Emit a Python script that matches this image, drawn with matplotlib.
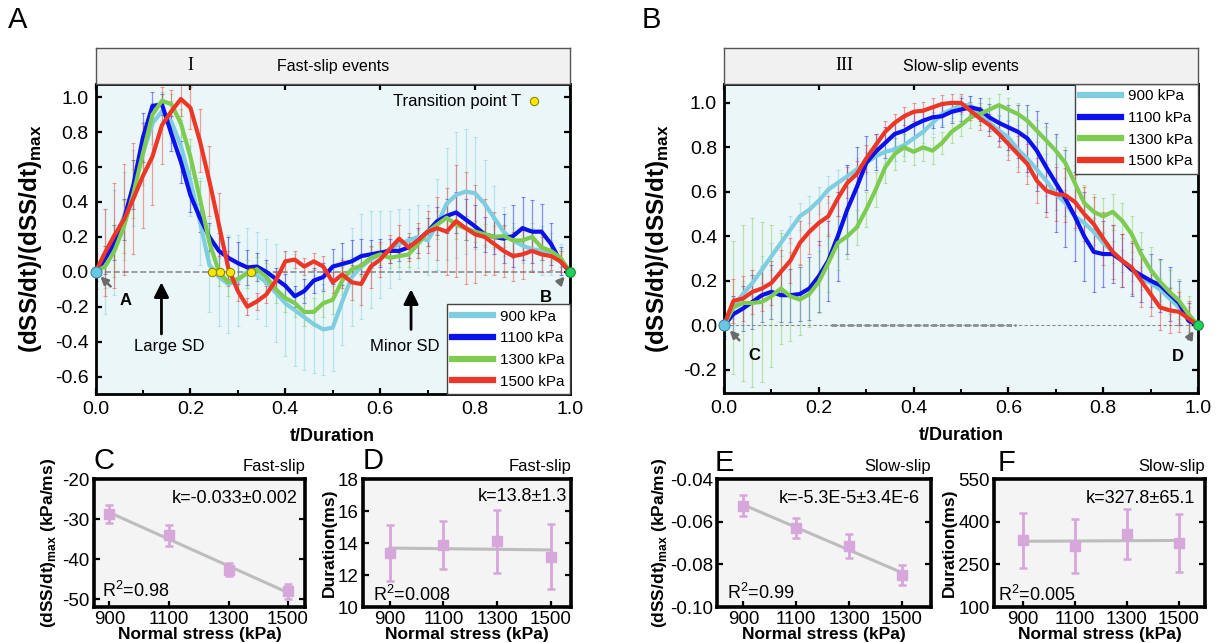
import numpy as np
import matplotlib
matplotlib.use("Agg")
import matplotlib.pyplot as plt
from matplotlib.lines import Line2D

plt.rcParams['font.family'] = ['Liberation Sans', 'DejaVu Sans']
plt.rcParams['axes.unicode_minus'] = False
plt.rcParams['mathtext.fontset'] = 'custom'
plt.rcParams['mathtext.rm'] = 'Liberation Sans'
plt.rcParams['mathtext.bf'] = 'Liberation Sans:bold'

# ---------------- data ----------------
t_grid = [0.00, 0.02, 0.04, 0.06, 0.08, 0.10, 0.12, 0.14, 0.16, 0.18,
          0.20, 0.22, 0.24, 0.26, 0.28, 0.30, 0.32, 0.34, 0.36, 0.38,
          0.40, 0.42, 0.44, 0.46, 0.48, 0.50, 0.52, 0.54, 0.56, 0.58,
          0.60, 0.62, 0.64, 0.66, 0.68, 0.70, 0.72, 0.74, 0.76, 0.78,
          0.80, 0.82, 0.84, 0.86, 0.88, 0.90, 0.92, 0.94, 0.96, 0.98, 1.00]
stress_labels = ["900 kPa", "1100 kPa", "1300 kPa", "1500 kPa"]

# panel A: fast-slip events, normalised slip rate
fast_900 = [0.0, 0.06, 0.17, 0.32, 0.48, 0.68, 0.85, 0.92, 0.86, 0.72,
            0.52, 0.29, 0.04, -0.03, -0.07, -0.05, 0.0, -0.02, -0.06, -0.12,
            -0.18, -0.22, -0.26, -0.30, -0.33, -0.32, -0.17, -0.03, 0.03, 0.07,
            0.10, 0.13, 0.16, 0.18, 0.20, 0.18, 0.27, 0.39, 0.44, 0.46,
            0.45, 0.39, 0.31, 0.23, 0.18, 0.15, 0.13, 0.12, 0.10, 0.06, 0.0]
fast_1100 = [0.0, 0.07, 0.17, 0.30, 0.50, 0.77, 0.95, 0.96, 0.79, 0.63,
             0.44, 0.31, 0.20, 0.12, 0.08, 0.05, 0.025, 0.03, 0.0, -0.04,
             -0.08, -0.14, -0.11, -0.05, -0.03, 0.03, 0.045, 0.06, 0.09, 0.10,
             0.11, 0.12, 0.12, 0.14, 0.18, 0.23, 0.29, 0.32, 0.34, 0.30,
             0.26, 0.215, 0.20, 0.19, 0.205, 0.25, 0.23, 0.23, 0.16, 0.06, 0.0]
fast_1300 = [0.0, 0.03, 0.12, 0.26, 0.45, 0.68, 0.90, 0.98, 0.96, 0.85,
             0.66, 0.42, 0.17, 0.0, -0.06, -0.04, -0.01, 0.015, -0.03, -0.10,
             -0.15, -0.18, -0.23, -0.23, -0.18, -0.16, -0.05, 0.015, 0.035, 0.08,
             0.10, 0.08, 0.09, 0.10, 0.16, 0.23, 0.27, 0.31, 0.27, 0.25,
             0.23, 0.215, 0.20, 0.205, 0.18, 0.18, 0.20, 0.14, 0.12, 0.08, 0.0]
fast_1500 = [0.0, 0.11, 0.21, 0.30, 0.42, 0.55, 0.66, 0.84, 0.92, 0.99,
             0.94, 0.75, 0.52, 0.27, 0.02, -0.11, -0.20, -0.17, -0.13, -0.05,
             0.06, 0.07, 0.03, 0.06, 0.03, -0.06, -0.015, -0.06, -0.07, 0.03,
             0.07, 0.13, 0.19, 0.14, 0.18, 0.23, 0.25, 0.23, 0.29, 0.25,
             0.215, 0.20, 0.16, 0.12, 0.09, 0.10, 0.12, 0.10, 0.09, 0.06, 0.0]
fast_900_sd = [0.10, 0.30, 0.30, 0.25, 0.22, 0.18, 0.12, 0.10, 0.12, 0.15,
               0.20, 0.25, 0.27, 0.28, 0.28, 0.26, 0.25, 0.25, 0.25, 0.28,
               0.30, 0.32, 0.30, 0.28, 0.26, 0.25, 0.25, 0.28, 0.30, 0.28,
               0.25, 0.22, 0.20, 0.18, 0.18, 0.20, 0.26, 0.32, 0.36, 0.36,
               0.32, 0.25, 0.18, 0.14, 0.10, 0.10, 0.12, 0.14, 0.12, 0.10, 0.0]
fast_1100_sd = [0.05, 0.08, 0.10, 0.12, 0.14, 0.14, 0.08, 0.06, 0.10, 0.12,
                0.10, 0.08, 0.08, 0.10, 0.12, 0.12, 0.10, 0.08, 0.07, 0.06,
                0.07, 0.06, 0.07, 0.07, 0.08, 0.10, 0.12, 0.12, 0.10, 0.08,
                0.08, 0.07, 0.06, 0.06, 0.07, 0.08, 0.08, 0.10, 0.12, 0.12,
                0.12, 0.10, 0.10, 0.14, 0.18, 0.18, 0.18, 0.16, 0.12, 0.08, 0.0]
fast_1300_sd = [0.05, 0.12, 0.15, 0.15, 0.14, 0.12, 0.06, 0.05, 0.06, 0.08,
                0.10, 0.10, 0.10, 0.08, 0.08, 0.08, 0.08, 0.07, 0.08, 0.08,
                0.08, 0.08, 0.08, 0.08, 0.08, 0.08, 0.08, 0.07, 0.06, 0.06,
                0.06, 0.06, 0.06, 0.07, 0.08, 0.08, 0.08, 0.08, 0.08, 0.07,
                0.06, 0.06, 0.06, 0.06, 0.07, 0.08, 0.08, 0.07, 0.06, 0.05, 0.0]
fast_1500_sd = [0.10, 0.25, 0.30, 0.32, 0.32, 0.30, 0.28, 0.22, 0.12, 0.10,
                0.12, 0.18, 0.20, 0.18, 0.10, 0.06, 0.05, 0.05, 0.05, 0.05,
                0.06, 0.05, 0.05, 0.05, 0.06, 0.06, 0.08, 0.10, 0.12, 0.12,
                0.10, 0.08, 0.08, 0.08, 0.10, 0.12, 0.18, 0.25, 0.32, 0.32,
                0.28, 0.22, 0.18, 0.15, 0.14, 0.14, 0.12, 0.10, 0.08, 0.06, 0.0]
transition_t = [0.246, 0.262, 0.283, 0.327]

# panel B: slow-slip events
slow_900 = [0.0, 0.08, 0.14, 0.19, 0.25, 0.31, 0.37, 0.43, 0.49, 0.52,
            0.56, 0.61, 0.64, 0.67, 0.70, 0.73, 0.76, 0.78, 0.79, 0.81,
            0.84, 0.87, 0.91, 0.95, 0.97, 0.99, 0.99, 0.95, 0.91, 0.875,
            0.845, 0.79, 0.75, 0.70, 0.65, 0.59, 0.55, 0.49, 0.46, 0.42,
            0.37, 0.33, 0.29, 0.25, 0.21, 0.19, 0.16, 0.12, 0.08, 0.04, 0.0]
slow_1100 = [0.0, 0.05, 0.075, 0.105, 0.135, 0.15, 0.135, 0.135, 0.14, 0.165,
             0.22, 0.29, 0.40, 0.52, 0.62, 0.73, 0.78, 0.82, 0.86, 0.875,
             0.90, 0.92, 0.935, 0.94, 0.96, 0.97, 0.98, 0.97, 0.935, 0.91,
             0.89, 0.87, 0.84, 0.785, 0.71, 0.64, 0.57, 0.49, 0.40, 0.33,
             0.32, 0.32, 0.29, 0.25, 0.225, 0.20, 0.18, 0.14, 0.10, 0.02, 0.0]
slow_1300 = [0.0, 0.08, 0.10, 0.10, 0.105, 0.13, 0.165, 0.13, 0.115, 0.14,
             0.195, 0.28, 0.37, 0.40, 0.44, 0.52, 0.61, 0.71, 0.77, 0.80,
             0.78, 0.80, 0.785, 0.82, 0.87, 0.90, 0.935, 0.95, 0.97, 0.99,
             0.97, 0.95, 0.92, 0.875, 0.83, 0.785, 0.73, 0.64, 0.55, 0.51,
             0.49, 0.51, 0.47, 0.41, 0.32, 0.25, 0.195, 0.15, 0.11, 0.05, 0.0]
slow_1500 = [0.0, 0.11, 0.12, 0.15, 0.165, 0.19, 0.24, 0.29, 0.37, 0.42,
             0.46, 0.49, 0.57, 0.64, 0.68, 0.75, 0.81, 0.87, 0.91, 0.94,
             0.96, 0.965, 0.98, 0.995, 1.0, 1.0, 0.965, 0.93, 0.90, 0.86,
             0.815, 0.77, 0.725, 0.65, 0.605, 0.59, 0.585, 0.555, 0.50, 0.455,
             0.39, 0.33, 0.29, 0.26, 0.20, 0.14, 0.08, 0.067, 0.06, 0.03, 0.0]
slow_900_sd = [0.03, 0.05, 0.06, 0.06, 0.06, 0.06, 0.06, 0.06, 0.06, 0.06,
               0.06, 0.06, 0.06, 0.05, 0.05, 0.05, 0.05, 0.05, 0.05, 0.05,
               0.05, 0.05, 0.05, 0.05, 0.04, 0.04, 0.04, 0.05, 0.06, 0.07,
               0.08, 0.08, 0.08, 0.08, 0.07, 0.07, 0.06, 0.06, 0.06, 0.06,
               0.05, 0.05, 0.05, 0.05, 0.05, 0.05, 0.05, 0.05, 0.05, 0.04, 0.0]
slow_1100_sd = [0.05, 0.08, 0.10, 0.12, 0.12, 0.12, 0.12, 0.12, 0.12, 0.14,
                0.16, 0.18, 0.20, 0.20, 0.18, 0.12, 0.08, 0.07, 0.06, 0.06,
                0.06, 0.05, 0.05, 0.05, 0.05, 0.05, 0.05, 0.05, 0.06, 0.08,
                0.10, 0.12, 0.15, 0.18, 0.20, 0.22, 0.22, 0.20, 0.20, 0.18,
                0.15, 0.13, 0.12, 0.12, 0.12, 0.12, 0.12, 0.12, 0.10, 0.08, 0.0]
slow_1300_sd = [0.10, 0.30, 0.35, 0.38, 0.36, 0.32, 0.25, 0.20, 0.16, 0.15,
                0.14, 0.13, 0.12, 0.10, 0.08, 0.08, 0.08, 0.07, 0.07, 0.06,
                0.06, 0.06, 0.06, 0.05, 0.05, 0.05, 0.05, 0.05, 0.05, 0.05,
                0.05, 0.05, 0.05, 0.05, 0.06, 0.06, 0.07, 0.08, 0.08, 0.08,
                0.08, 0.08, 0.08, 0.08, 0.10, 0.10, 0.10, 0.10, 0.10, 0.08, 0.0]
slow_1500_sd = [0.06, 0.10, 0.10, 0.10, 0.10, 0.10, 0.10, 0.10, 0.10, 0.10,
                0.10, 0.09, 0.08, 0.07, 0.06, 0.06, 0.05, 0.05, 0.04, 0.04,
                0.04, 0.04, 0.04, 0.04, 0.04, 0.04, 0.04, 0.05, 0.05, 0.06,
                0.07, 0.08, 0.09, 0.10, 0.12, 0.12, 0.12, 0.12, 0.12, 0.12,
                0.12, 0.12, 0.12, 0.12, 0.12, 0.10, 0.10, 0.10, 0.09, 0.08, 0.0]

# panels C-F: vs normal stress
normal_stress = [900, 1100, 1300, 1500]
fast_rate_max = [-28.7, -34.1, -42.7, -48.1]
fast_rate_err = [2.3, 2.7, 1.6, 1.8]
fast_duration = [13.35, 13.9, 14.1, 13.15]
fast_duration_err = [1.75, 1.5, 1.95, 2.05]
slow_rate_max = [-0.0525, -0.063, -0.0715, -0.085]
slow_rate_err = [0.005, 0.0045, 0.0055, 0.0045]
slow_duration = [335, 315, 355, 325]
slow_duration_err = [97, 95, 88, 103]

# ---------------- style ----------------
CURVE_COLORS = ["#7fcde0", "#0a10ee", "#7dcc50", "#ee3626"]
BG = "#eaf6f8"
PINK = "#d7a6db"
W, H = 1218, 643

fig = plt.figure(figsize=(W / 100, H / 100), dpi=100)


def px_axes(x0, y0, x1, y1, **kw):
    return fig.add_axes([x0 / W, 1 - y1 / H, (x1 - x0) / W, (y1 - y0) / H], **kw)


def header(x0, x1, title):
    hx = px_axes(x0, 48, x1, 84)
    hx.set_facecolor("#f1f1f1")
    hx.set_xticks([])
    hx.set_yticks([])
    for s in hx.spines.values():
        s.set_color("#555555")
        s.set_linewidth(1.0)
    hx.text(0.5, 0.5, title, ha="center", va="center", fontsize=11.5,
            transform=hx.transAxes)
    return hx


def curves_panel(ax, series, sds, ylim, yticks):
    ax.set_facecolor(BG)
    for y, e, c in zip(series, sds, CURVE_COLORS):
        ax.errorbar(t_grid, y, yerr=e, fmt="none", ecolor=c, elinewidth=0.9,
                    capsize=1.6, capthick=0.8, alpha=0.45, zorder=2)
    for y, c, lab in zip(series, CURVE_COLORS, stress_labels):
        ax.plot(t_grid, y, color=c, lw=3.0, label=lab, zorder=3,
                solid_capstyle="round")
    ax.set_xlim(0, 1)
    ax.set_ylim(*ylim)
    ax.set_xticks([0.0, 0.2, 0.4, 0.6, 0.8, 1.0])
    ax.set_xticks([0.1, 0.3, 0.5, 0.7, 0.9], minor=True)
    ax.set_xticklabels(["0.0", "0.2", "0.4", "0.6", "0.8", "1.0"])
    ax.set_yticks(yticks)
    ax.set_yticklabels([f"{v:.1f}" for v in yticks])
    ax.tick_params(direction="in", top=True, right=True, labelsize=14,
                   width=1.6, length=4, pad=5)
    ax.tick_params(which="minor", direction="in", top=False, width=1.4,
                   length=3)
    for s in ax.spines.values():
        s.set_linewidth(2.0)
    ax.set_xlabel("t/Duration", fontsize=13, fontweight="bold")
    ax.xaxis.set_label_coords(0.5, -0.11)
    ax.set_ylabel(r"(dSS/dt)/(dSS/dt)$_\mathbf{max}$", fontsize=17.5,
                  fontweight="bold")


def legend(ax, loc):
    handles = [Line2D([0], [0], color=c, lw=4.5) for c in CURVE_COLORS]
    lg = ax.legend(handles, stress_labels, loc=loc, fontsize=11,
                   borderaxespad=0, handlelength=2.7, labelspacing=0.5,
                   handletextpad=0.45, borderpad=0.35, fancybox=False,
                   framealpha=1, edgecolor="#444444")
    lg.get_frame().set_linewidth(1.0)
    lg.set_zorder(6)


# ---------------- panel A ----------------
axA = px_axes(95.5, 84, 570, 394)
curves_panel(axA, [fast_900, fast_1100, fast_1300, fast_1500],
             [fast_900_sd, fast_1100_sd, fast_1300_sd, fast_1500_sd],
             (-0.70, 1.076), [-0.6, -0.4, -0.2, 0.0, 0.2, 0.4, 0.6, 0.8, 1.0])
axA.yaxis.set_label_coords(-0.108, 0.5)
axA.axhline(0, color="#8c8c8c", ls="--", lw=1.2, zorder=1)
axA.plot(transition_t, [0] * len(transition_t), "o", ms=6, mfc="#f7e600",
         mec="#8a7d00", mew=0.7, zorder=5)
axA.plot([0], [0], "o", ms=8, mfc="#66c8e6", mec="#3a7f95", mew=0.7,
         clip_on=False, zorder=6)
axA.plot([1], [0], "o", ms=7, mfc="#1fd15a", mec="#137a35", mew=0.7,
         clip_on=False, zorder=6)
arrow_gray = dict(arrowstyle="-|>", color="#6a6a6a", lw=1.8, mutation_scale=11,
                  shrinkA=6, shrinkB=3)
axA.annotate("A", xy=(0.004, -0.01), xytext=(0.063, -0.166), fontsize=12,
             fontweight="bold", ha="center", va="center",
             arrowprops=arrow_gray, zorder=6)
axA.annotate("B", xy=(0.995, -0.01), xytext=(0.949, -0.147), fontsize=12,
             fontweight="bold", ha="center", va="center",
             arrowprops=arrow_gray, zorder=6)
arrow_black = dict(arrowstyle="-|>", color="black", lw=2.0, mutation_scale=22,
                   shrinkA=0, shrinkB=0)
axA.annotate("", xy=(0.139, -0.06), xytext=(0.139, -0.356),
             arrowprops=arrow_black)
axA.text(0.156, -0.43, "Large SD", fontsize=12, ha="center", va="center")
axA.annotate("", xy=(0.665, -0.10), xytext=(0.665, -0.33),
             arrowprops=arrow_black)
axA.text(0.652, -0.43, "Minor SD", fontsize=12, ha="center", va="center")
axA.text(0.761, 0.977, "Transition point T", fontsize=12, ha="center",
         va="center")
axA.plot([0.925], [0.977], "o", ms=6, mfc="#f7e600", mec="#8a7d00", mew=0.7)
legend(axA, "lower right")

hA = header(95.5, 570, "Fast-slip events")
hA.text(0.2, 0.5, "I", ha="center", va="center", fontsize=13,
        family=["Liberation Serif", "DejaVu Serif"], transform=hA.transAxes)

# ---------------- panel B ----------------
axB = px_axes(724, 84, 1198, 393)
curves_panel(axB, [slow_900, slow_1100, slow_1300, slow_1500],
             [slow_900_sd, slow_1100_sd, slow_1300_sd, slow_1500_sd],
             (-0.305, 1.085), [-0.2, 0.0, 0.2, 0.4, 0.6, 0.8, 1.0])
axB.yaxis.set_label_coords(-0.112, 0.5)
axB.axhline(0, color="#8c8c8c", ls=(0, (3, 2)), lw=0.8, zorder=1)
axB.plot([0.225, 0.617], [0, 0], color="#8c8c8c", ls=(0, (2, 1)), lw=2.0,
         zorder=1)
axB.plot([0], [0], "o", ms=8, mfc="#66c8e6", mec="#3a7f95", mew=0.7,
         clip_on=False, zorder=6)
axB.plot([1], [0], "o", ms=7, mfc="#1fd15a", mec="#137a35", mew=0.7,
         clip_on=False, zorder=6)
axB.annotate("C", xy=(0.006, -0.01), xytext=(0.063, -0.135), fontsize=12,
             fontweight="bold", ha="center", va="center",
             arrowprops=arrow_gray, zorder=6)
axB.annotate("D", xy=(0.995, -0.01), xytext=(0.958, -0.142), fontsize=12,
             fontweight="bold", ha="center", va="center",
             arrowprops=arrow_gray, zorder=6)
legend(axB, "upper right")

hB = header(724, 1198, "Slow-slip events")
hB.text(0.255, 0.5, "III", ha="center", va="center", fontsize=13,
        family=["Liberation Serif", "DejaVu Serif"], transform=hB.transAxes)


# ---------------- panels C-F ----------------
def small_panel(box, xlim, ylim, yticks, ytick_fmt, y, yerr, ylabel, ylab_x,
                tag, ktext, kpos, r2text, r2pos):
    ax = px_axes(*box)
    ax.set_facecolor("#f4f4f4")
    slope, icpt = np.polyfit(normal_stress, y, 1)
    xs = np.array([normal_stress[0], normal_stress[-1]])
    ax.plot(xs, slope * xs + icpt, color="#bdbdbd", lw=2.2, zorder=2)
    ax.errorbar(normal_stress, y, yerr=yerr, fmt="s", ms=7, color=PINK,
                ecolor=PINK, elinewidth=2, capsize=3, capthick=1.8, zorder=3)
    ax.set_xlim(*xlim)
    ax.set_ylim(*ylim)
    ax.set_xticks(normal_stress)
    ax.set_yticks(yticks)
    ax.set_yticklabels([ytick_fmt.format(v) for v in yticks])
    ax.tick_params(direction="in", right=True, labelsize=13.5, width=1.6,
                   length=4, pad=3)
    for s in ax.spines.values():
        s.set_linewidth(2.6)
    ax.set_xlabel("Normal stress (kPa)", fontsize=12.5, fontweight="bold")
    ax.xaxis.set_label_coords(0.5, -0.16)
    ax.set_ylabel(ylabel, fontsize=12.5, fontweight="bold")
    ax.yaxis.set_label_coords(ylab_x, 0.5)
    ax.text(1.0, 1.04, tag, ha="right", va="bottom", fontsize=12,
            transform=ax.transAxes)
    ax.text(kpos[0], kpos[1], ktext, ha="right", va="center", fontsize=13,
            transform=ax.transAxes)
    ax.text(r2pos[0], r2pos[1], r2text, ha="left", va="center", fontsize=13,
            transform=ax.transAxes)
    return ax


rate_label = r"(dSS/dt)$_\mathbf{max}$ (kPa/ms)"
small_panel((94, 479, 305, 607), (848, 1557), (-52, -20), [-50, -40, -30, -20],
            "{:.0f}", fast_rate_max, fast_rate_err, rate_label, -0.17,
            "Fast-slip", "k=-0.033±0.002", (0.967, 0.85), "R$^2$=0.98",
            (0.036, 0.125))
small_panel((363, 479, 571, 607), (800, 1576), (10, 18), [10, 12, 14, 16, 18],
            "{:.0f}", fast_duration, fast_duration_err, "Duration(ms)", -0.125,
            "Fast-slip", "k=13.8±1.3", (0.98, 0.867), "R$^2$=0.008",
            (0.048, 0.094))
small_panel((717, 479, 931, 607), (800, 1610), (-0.10, -0.04),
            [-0.10, -0.08, -0.06, -0.04], "{:.2f}", slow_rate_max,
            slow_rate_err, rate_label, -0.224, "Slow-slip",
            "k=-5.3E-5±3.4E-6", (0.95, 0.85), "R$^2$=0.99", (0.045, 0.11))
small_panel((994, 479, 1205, 607), (790, 1600), (100, 550),
            [100, 250, 400, 550], "{:.0f}", slow_duration, slow_duration_err,
            "Duration(ms)", -0.175, "Slow-slip", "k=327.8±65.1", (0.955, 0.85),
            "R$^2$=0.005", (0.02, 0.094))

# panel letters
for letter, (px, py) in {"A": (18, 20), "B": (651, 20), "C": (104, 461),
                         "D": (373, 461), "E": (724, 463),
                         "F": (1007, 463)}.items():
    fig.text(px / W, 1 - py / H, letter, fontsize=21, ha="center",
             va="center")

fig.savefig("out.png", dpi=100)
